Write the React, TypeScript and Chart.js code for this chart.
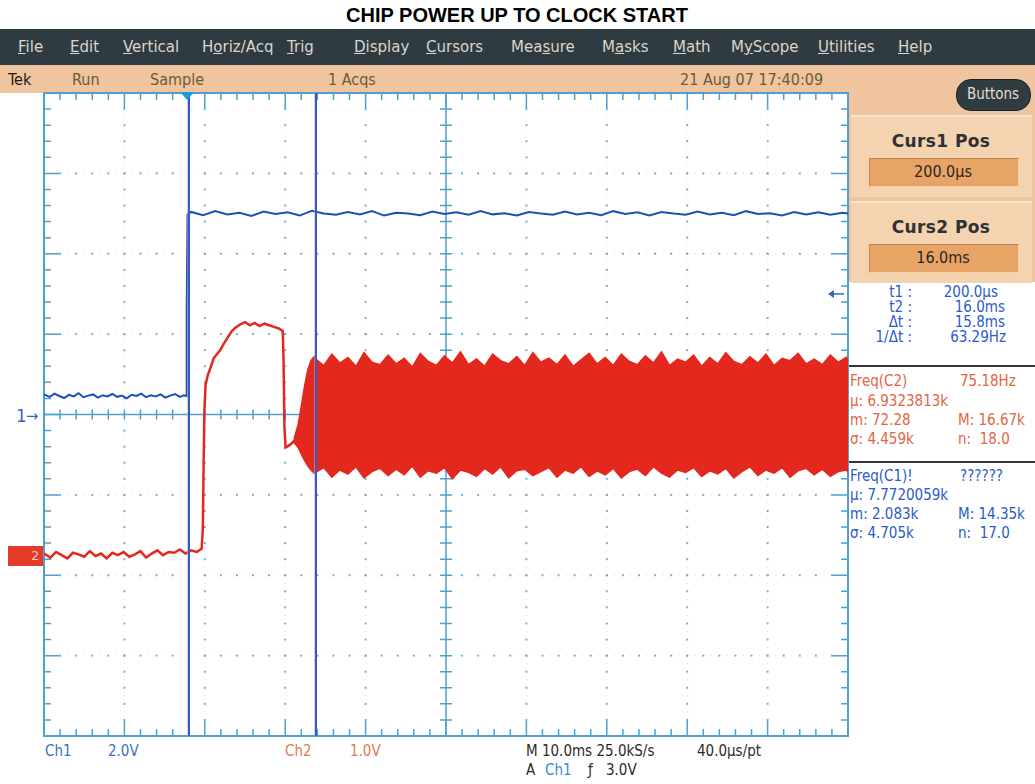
import React, { useEffect, useRef } from "react";
import { Chart, registerables } from "chart.js";

Chart.register(...registerables);

// ---------------- data (time in ms, values in volts) ----------------
const ch1LowTimes = [-17.8, -17.1, -16.5, -15.9, -15.3, -14.7, -14.1, -13.5, -12.9, -12.3, -11.7, -11.1, -10.5, -9.9, -9.3, -8.7, -8.1, -7.5, -6.9, -6.3, -5.7, -5.1, -4.5, -3.9, -3.3, -2.7, -2.1, -1.5, -0.9, -0.4, -0.1];
const ch1LowVolts = [0.50, 0.44, 0.52, 0.46, 0.41, 0.49, 0.45, 0.53, 0.43, 0.47, 0.50, 0.42, 0.48, 0.45, 0.51, 0.44, 0.47, 0.40, 0.49, 0.46, 0.52, 0.43, 0.48, 0.45, 0.50, 0.42, 0.47, 0.51, 0.44, 0.48, 0.46];
const ch1EdgeTimes = [-0.05, 0.05];
const ch1EdgeVolts = [2.6, 4.98];
const ch1HighTimes = [0.5, 2, 3.5, 5, 6.5, 8, 9.5, 11, 12.5, 14, 15.5, 17, 18.5, 20, 21.5, 23, 24.5, 26, 27.5, 29, 30.5, 32, 33.5, 35, 36.5, 38, 39.5, 41, 42.5, 44, 45.5, 47, 48.5, 50, 51.5, 53, 54.5, 56, 57.5, 59, 60.5, 62, 63.5, 65, 66.5, 68, 69.5, 71, 72.5, 74, 75.5, 77, 78.5, 80, 81.5, 82.2];
const ch1HighVolts = [5.04, 4.96, 5.06, 4.98, 5.02, 4.94, 5.05, 4.99, 5.03, 4.95, 5.07, 5.00, 4.97, 5.04, 4.98, 5.06, 4.95, 5.02, 5.00, 4.96, 5.05, 4.99, 5.03, 4.97, 5.06, 4.98, 5.01, 4.95, 5.04, 5.00, 4.97, 5.05, 4.98, 5.02, 4.96, 5.06, 4.99, 5.03, 4.95, 5.04, 5.00, 4.97, 5.05, 4.98, 5.02, 4.96, 5.06, 4.99, 5.01, 4.95, 5.04, 4.98, 5.03, 4.97, 5.02, 5.00];

const ch2Times = [-17.8, -17.0, -16.3, -15.6, -14.9, -14.2, -13.5, -12.8, -12.1, -11.4, -10.7, -10.0, -9.3, -8.6, -7.9, -7.2, -6.5, -5.8, -5.1, -4.4, -3.7, -3.0, -2.3, -1.6, -0.9, -0.2, 0.5, 1.2, 1.8,
  1.95, 2.05, 2.15, 2.3, 2.6, 2.9, 3.3, 3.7, 4.1, 4.5, 5.0, 5.5, 6.0, 6.6, 7.2, 7.8, 8.4, 9.0, 9.6, 10.2, 10.8, 11.4, 11.9, 12.0, 12.1, 12.25, 12.6, 13.0, 13.4];
const ch2Volts = [0.02, -0.03, 0.04, 0.00, -0.04, 0.03, 0.01, -0.02, 0.05, -0.01, 0.02, -0.04, 0.03, 0.00, 0.04, -0.02, 0.01, 0.05, -0.03, 0.02, 0.06, 0.00, 0.04, 0.03, 0.07, 0.02, 0.06, 0.04, 0.08,
  0.3, 1.1, 1.8, 2.12, 2.25, 2.33, 2.45, 2.5, 2.55, 2.62, 2.7, 2.78, 2.83, 2.87, 2.9, 2.86, 2.89, 2.85, 2.88, 2.86, 2.84, 2.82, 2.79, 2.4, 1.6, 1.34, 1.36, 1.39, 1.43];

const burstTimes = [13.3, 13.8, 14.2, 14.6, 15.0, 15.4, 15.8,
  16, 17, 18, 19, 20, 21, 22, 23, 24, 25, 26, 27, 28, 29, 30, 31, 32, 33, 34, 35, 36, 37, 38, 39, 40, 41, 42, 43, 44, 45, 46, 47, 48, 49,
  50, 51, 52, 53, 54, 55, 56, 57, 58, 59, 60, 61, 62, 63, 64, 65, 66, 67, 68, 69, 70, 71, 72, 73, 74, 75, 76, 77, 78, 79, 80, 81, 82, 82.2];
const burstUpper = [1.45, 1.62, 1.85, 2.10, 2.30, 2.42, 2.47,
  2.44, 2.36, 2.50, 2.39, 2.46, 2.35, 2.52, 2.40, 2.37, 2.49,
  2.38, 2.45, 2.34, 2.51, 2.41, 2.36, 2.48, 2.39, 2.53, 2.37,
  2.44, 2.35, 2.50, 2.42, 2.38, 2.47, 2.36, 2.52, 2.40, 2.45,
  2.37, 2.49, 2.35, 2.43, 2.51, 2.38, 2.46, 2.36, 2.50, 2.41,
  2.37, 2.48, 2.39, 2.53, 2.36, 2.44, 2.40, 2.49, 2.35, 2.46,
  2.38, 2.52, 2.41, 2.37, 2.47, 2.39, 2.50, 2.36, 2.45, 2.42,
  2.51, 2.38, 2.44, 2.37, 2.49, 2.40, 2.46, 2.42];
const burstLower = [1.40, 1.34, 1.26, 1.18, 1.11, 1.06, 1.02,
  1.03, 1.09, 0.97, 1.06, 1.01, 1.10, 0.96, 1.04, 1.08, 0.99,
  1.07, 1.00, 1.11, 0.97, 1.05, 1.02, 1.09, 0.95, 1.06, 1.03,
  0.98, 1.08, 1.01, 1.10, 0.96, 1.05, 1.07, 0.99, 1.04, 1.09,
  0.97, 1.06, 1.02, 1.10, 0.98, 1.05, 1.00, 1.08, 0.96, 1.04,
  1.07, 0.99, 1.10, 1.02, 0.97, 1.06, 1.03, 1.09, 0.98, 1.05,
  1.01, 1.08, 0.96, 1.04, 1.10, 0.99, 1.06, 1.02, 1.09, 0.97,
  1.05, 1.08, 1.00, 1.07, 0.98, 1.04, 1.06, 1.03];

const cursorTimes = [0.2, 16.0];
const triggerTime = 0;
const triggerLevel = 3.0; // volts on Ch1

// horizontal: 10 ms/div, 10 divisions; vertical: 8 divisions
const timeStart = -17.8;
const msPerDiv = 10;
const ch1VoltsPerDiv = 2.0;
const ch2VoltsPerDiv = 1.0;
const ch2GroundDiv = -1.75;

const zip = (ts: number[], vs: number[]) => {
  const n = Math.min(ts.length, vs.length);
  const out: { x: number; y: number }[] = [];
  for (let i = 0; i < n; i++) out.push({ x: ts[i], y: vs[i] });
  return out;
};

const W = 1035, H = 784;
const PLOT = { left: 44, top: 93, right: 848, bottom: 736 };
const NARROW = "'Liberation Sans Narrow','DejaVu Sans Condensed','DejaVu Sans',sans-serif";
const DJ = "'DejaVu Sans',sans-serif";
const ARIAL = "'Liberation Sans',Arial,sans-serif";

const GRID = "#6cb2dc";
const BORDER = "#4f9fd0";

const scopePlugin = {
  id: "scope",
  beforeDatasetsDraw(chart: any) {
    const { ctx, chartArea: a } = chart;
    const xs = chart.scales.x, ys = chart.scales.y1;
    const gx = (d: number) => xs.getPixelForValue(timeStart + d * msPerDiv);
    const gy = (d: number) => ys.getPixelForValue(-4 * ch1VoltsPerDiv + d * ch1VoltsPerDiv);
    ctx.save();
    ctx.fillStyle = "#ffffff";
    ctx.fillRect(a.left, a.top, a.right - a.left, a.bottom - a.top);
    // dotted major graticule
    for (let i = 1; i < 10; i++) {
      if (i === 5) continue;
      const x = gx(i);
      for (let k = 1; k < 40; k++) {
        ctx.fillStyle = GRID;
        ctx.fillRect(x - 1, gy(k / 5) - 1, 2, 2);
        ctx.fillStyle = "rgba(120,185,225,0.45)";
        ctx.fillRect(x - 0.5, gy((k + 0.5) / 5) - 0.5, 1, 1);
      }
    }
    for (let j = 1; j < 8; j++) {
      if (j === 4) continue;
      const y = gy(j);
      for (let k = 1; k < 50; k++) {
        ctx.fillStyle = GRID;
        ctx.fillRect(gx(k / 5) - 1, y - 1, 2, 2);
        ctx.fillStyle = "rgba(120,185,225,0.45)";
        ctx.fillRect(gx((k + 0.5) / 5) - 0.5, y - 0.5, 1, 1);
      }
    }
    // centre cross with ticks
    ctx.strokeStyle = BORDER;
    ctx.lineWidth = 1.5;
    const cx = gx(5), cy = gy(4);
    ctx.beginPath();
    ctx.moveTo(cx, a.top); ctx.lineTo(cx, a.bottom);
    ctx.moveTo(a.left, cy); ctx.lineTo(a.right, cy);
    for (let k = 1; k < 50; k++) { const x = gx(k / 5); ctx.moveTo(x, cy - 5); ctx.lineTo(x, cy + 5); }
    for (let k = 1; k < 40; k++) { const y = gy(k / 5); ctx.moveTo(cx - 6, y); ctx.lineTo(cx + 6, y); }
    ctx.stroke();
    // border + edge ticks
    ctx.lineWidth = 2;
    ctx.strokeRect(a.left, a.top, a.right - a.left, a.bottom - a.top);
    ctx.lineWidth = 1.5;
    ctx.beginPath();
    for (let k = 1; k < 50; k++) {
      const x = gx(k / 5);
      const len = k % 5 === 0 ? 15 : 7;
      ctx.moveTo(x, a.top); ctx.lineTo(x, a.top + len);
      ctx.moveTo(x, a.bottom); ctx.lineTo(x, a.bottom - len);
    }
    for (let k = 1; k < 40; k++) {
      const y = gy(k / 5);
      const len = k % 5 === 0 ? 15 : 7;
      ctx.moveTo(a.left, y); ctx.lineTo(a.left + len, y);
      ctx.moveTo(a.right, y); ctx.lineTo(a.right - len, y);
    }
    ctx.stroke();
    ctx.restore();
  },
  afterDatasetsDraw(chart: any) {
    const { ctx, chartArea: a } = chart;
    const xs = chart.scales.x, y1 = chart.scales.y1;
    ctx.save();
    // cursors
    cursorTimes.forEach((t) => {
      const x = Math.round(xs.getPixelForValue(t));
      ctx.fillStyle = "rgba(235,150,170,0.55)";
      ctx.fillRect(x - 2, a.top, 1, a.bottom - a.top);
      ctx.fillStyle = "#2a5fc6";
      ctx.fillRect(x - 1, a.top, 2, a.bottom - a.top);
    });
    // trigger position marker
    const tx = xs.getPixelForValue(triggerTime);
    ctx.fillStyle = "#1f9ad8";
    ctx.beginPath();
    ctx.moveTo(tx - 7, a.top - 1);
    ctx.lineTo(tx + 7, a.top - 1);
    ctx.lineTo(tx, a.top + 7);
    ctx.closePath();
    ctx.fill();
    // trigger level arrow (Ch1)
    const ty = y1.getPixelForValue(triggerLevel);
    ctx.strokeStyle = "#2f66cc";
    ctx.fillStyle = "#2f66cc";
    ctx.lineWidth = 1.5;
    ctx.beginPath();
    ctx.moveTo(a.right - 4, ty); ctx.lineTo(a.right - 16, ty);
    ctx.stroke();
    ctx.beginPath();
    ctx.moveTo(a.right - 20, ty);
    ctx.lineTo(a.right - 14, ty - 4);
    ctx.lineTo(a.right - 14, ty + 4);
    ctx.closePath();
    ctx.fill();
    ctx.restore();
  },
};

type TP = { x?: number; r?: number; cx?: number; y: number; s?: number; c?: string; f?: string; b?: boolean; ls?: number; children: React.ReactNode };
function T({ x, r, cx, y, s = 14, c = "#000", f = NARROW, b = false, ls, children }: TP) {
  const st: React.CSSProperties = {
    position: "absolute",
    top: y - s * 0.62,
    fontSize: s,
    lineHeight: `${Math.round(s * 1.24)}px`,
    color: c,
    fontFamily: f,
    fontWeight: b ? 700 : 400,
    whiteSpace: "nowrap",
    letterSpacing: ls,
  };
  if (x !== undefined) st.left = x;
  if (r !== undefined) st.right = W - r;
  if (cx !== undefined) { st.left = cx - 250; st.width = 500; st.textAlign = "center"; }
  return <div style={st}>{children}</div>;
}

const menuItems: [string, number, number][] = [
  ["File", 0, 18], ["Edit", 0, 70], ["Vertical", 0, 123], ["Horiz/Acq", 1, 202], ["Trig", 0, 287],
  ["Display", 0, 354], ["Cursors", 0, 426], ["Measure", 3, 511], ["Masks", 1, 602], ["Math", 0, 673],
  ["MyScope", 1, 731], ["Utilities", 0, 818], ["Help", 0, 898],
];

const BLUE_TXT = "#2a5cc8";
const RED_TXT = "#e2653f";
const TAN = "#f0c49e";

export default function App() {
  const ref = useRef<HTMLCanvasElement>(null);
  useEffect(() => {
    document.body.style.margin = "0";
    const ch1Points = [...zip(ch1LowTimes, ch1LowVolts), ...zip(ch1EdgeTimes, ch1EdgeVolts), ...zip(ch1HighTimes, ch1HighVolts)];
    const chart = new Chart(ref.current as HTMLCanvasElement, {
      type: "line",
      data: {
        datasets: [
          { label: "Ch1", data: ch1Points, yAxisID: "y1", borderColor: "#1d4fb8", borderWidth: 2, pointRadius: 0, tension: 0, fill: false },
          { label: "Ch2", data: zip(ch2Times, ch2Volts), yAxisID: "y2", borderColor: "#e3281e", borderWidth: 2.5, pointRadius: 0, tension: 0, fill: false },
          { label: "Ch2 max", data: zip(burstTimes, burstUpper), yAxisID: "y2", borderColor: "#e3281e", backgroundColor: "#e3281e", borderWidth: 1.5, pointRadius: 0, tension: 0, fill: "+1" },
          { label: "Ch2 min", data: zip(burstTimes, burstLower), yAxisID: "y2", borderColor: "#e3281e", borderWidth: 1.5, pointRadius: 0, tension: 0, fill: false },
        ],
      },
      options: {
        responsive: false,
        animation: false,
        events: [],
        layout: { padding: { left: PLOT.left, top: PLOT.top, right: W - PLOT.right, bottom: H - PLOT.bottom } },
        scales: {
          x: { type: "linear", min: timeStart, max: timeStart + 10 * msPerDiv, display: false },
          y1: { type: "linear", min: -4 * ch1VoltsPerDiv, max: 4 * ch1VoltsPerDiv, display: false },
          y2: { type: "linear", min: (-4 - ch2GroundDiv) * ch2VoltsPerDiv, max: (4 - ch2GroundDiv) * ch2VoltsPerDiv, display: false },
        },
        plugins: { legend: { display: false }, tooltip: { enabled: false } },
      } as any,
      plugins: [scopePlugin],
    });
    return () => chart.destroy();
  }, []);

  const box = (top: number, title: string, value: string) => (
    <>
      <div style={{ position: "absolute", left: 851, top, width: 181, height: 80, background: "#f4d3b1", borderTop: "2px solid #fae4cf" }} />
      <T cx={941} y={top + 27} s={17} f={DJ} b c="#2e3034" ls={0.4}>{title}</T>
      <div style={{ position: "absolute", left: 869, top: top + 43, width: 148, height: 27, background: "#e8a466", borderTop: "1px solid #b9814c", borderLeft: "1px solid #c48a52", borderBottom: "1px solid #f6cfa6", borderRight: "1px solid #f6cfa6" }} />
      <T cx={943} y={top + 57} s={16} c="#2b2620">{value}</T>
    </>
  );

  return (
    <div style={{ position: "relative", width: W, height: H, overflow: "hidden", background: "#fff" }}>
      <T cx={517} y={15} s={20} f={ARIAL} b c="#000">CHIP POWER UP TO CLOCK START</T>
      {/* menu bar */}
      <div style={{ position: "absolute", left: 0, top: 29, width: W, height: 36, background: "#2e3b41" }} />
      {menuItems.map(([label, u, x]) => (
        <T key={label} x={x} y={47} s={15} f={DJ} c="#ddd4cb">
          {label.slice(0, u)}
          <span style={{ textDecoration: "underline" }}>{label[u]}</span>
          {label.slice(u + 1)}
        </T>
      ))}
      {/* status bar + right panel */}
      <div style={{ position: "absolute", left: 0, top: 65, width: W, height: 28, background: TAN }} />
      <div style={{ position: "absolute", left: 848, top: 93, width: W - 848, height: 189, background: TAN }} />
      <T x={8} y={80} s={16} c="#1c1a18">Tek</T>
      <T x={72} y={80} s={16} c="#6b5a3a">Run</T>
      <T x={150} y={80} s={16} c="#6b5a3a">Sample</T>
      <T x={328} y={80} s={16} c="#6b5a3a">1 Acqs</T>
      <T x={680} y={80} s={16} c="#6b5a3a">21 Aug 07 17:40:09</T>
      <div style={{ position: "absolute", left: 956, top: 79, width: 73, height: 30, background: "#2f3c41", borderRadius: 15, border: "1px solid #1b2327" }} />
      <T cx={993} y={94} s={15} c="#e6dccf">Buttons</T>
      {box(115, "Curs1 Pos", "200.0µs")}
      {box(201, "Curs2 Pos", "16.0ms")}
      {/* cursor readouts */}
      <T r={912} y={292} s={15} c={BLUE_TXT}>t1 :</T>
      <T r={912} y={307} s={15} c={BLUE_TXT}>t2 :</T>
      <T r={912} y={322} s={15} c={BLUE_TXT}>Δt :</T>
      <T r={912} y={337} s={15} c={BLUE_TXT}>1/Δt :</T>
      <T r={998} y={292} s={15} c={BLUE_TXT}>200.0µs</T>
      <T r={1005} y={307} s={15} c={BLUE_TXT}>16.0ms</T>
      <T r={1005} y={322} s={15} c={BLUE_TXT}>15.8ms</T>
      <T r={1006} y={337} s={15} c={BLUE_TXT}>63.29Hz</T>
      {/* measurement separators */}
      <div style={{ position: "absolute", left: 848, top: 365, width: W - 848, height: 2, background: "#3a3534" }} />
      <div style={{ position: "absolute", left: 848, top: 461, width: W - 848, height: 2, background: "#3a3534" }} />
      <T x={850} y={381} s={15} c={RED_TXT}>Freq(C2)</T>
      <T x={960} y={381} s={15} c={RED_TXT}>75.18Hz</T>
      <T x={850} y={401} s={15} c={RED_TXT}>µ: 6.9323813k</T>
      <T x={850} y={420} s={15} c={RED_TXT}>m: 72.28</T>
      <T x={958} y={420} s={15} c={RED_TXT}>M: 16.67k</T>
      <T x={850} y={439} s={15} c={RED_TXT}>σ: 4.459k</T>
      <T x={958} y={439} s={15} c={RED_TXT}>n:&nbsp; 18.0</T>
      <T x={850} y={476} s={15} c={BLUE_TXT}>Freq(C1)!</T>
      <T x={960} y={476} s={15} c={BLUE_TXT}>??????</T>
      <T x={850} y={495} s={15} c={BLUE_TXT}>µ: 7.7720059k</T>
      <T x={850} y={514} s={15} c={BLUE_TXT}>m: 2.083k</T>
      <T x={958} y={514} s={15} c={BLUE_TXT}>M: 14.35k</T>
      <T x={850} y={533} s={15} c={BLUE_TXT}>σ: 4.705k</T>
      <T x={958} y={533} s={15} c={BLUE_TXT}>n:&nbsp; 17.0</T>
      {/* bottom readouts */}
      <T x={45} y={751} s={15} c="#3a72c2">Ch1</T>
      <T x={108} y={751} s={15} c="#3a72c2">2.0V</T>
      <T x={285} y={751} s={15} c="#e07a58">Ch2</T>
      <T x={350} y={751} s={15} c="#e07a58">1.0V</T>
      <T x={526} y={751} s={15} c="#2e2a28">M 10.0ms 25.0kS/s</T>
      <T x={697} y={751} s={15} c="#2e2a28">40.0µs/pt</T>
      <T x={526} y={770} s={15} c="#2e2a28">A</T>
      <T x={545} y={770} s={15} c="#3a8ad8">Ch1</T>
      <T x={588} y={770} s={15} c="#2e2a28">ƒ</T>
      <T x={606} y={770} s={15} c="#2e2a28">3.0V</T>

      <canvas ref={ref} width={W} height={H} style={{ position: "absolute", left: 0, top: 0, width: W, height: H, pointerEvents: "none" }} />

      {/* channel ground markers */}
      <T x={16} y={417} s={17} f={DJ} c="#2a62c8">1</T>
      <T x={26} y={416} s={15} f={DJ} c="#2a62c8">→</T>
      <div style={{ position: "absolute", left: 8, top: 546, width: 35, height: 20, background: "#e43b2b" }} />
      <T x={31} y={556} s={13} f={DJ} c="#f7c0b6">2</T>
    </div>
  );
}
